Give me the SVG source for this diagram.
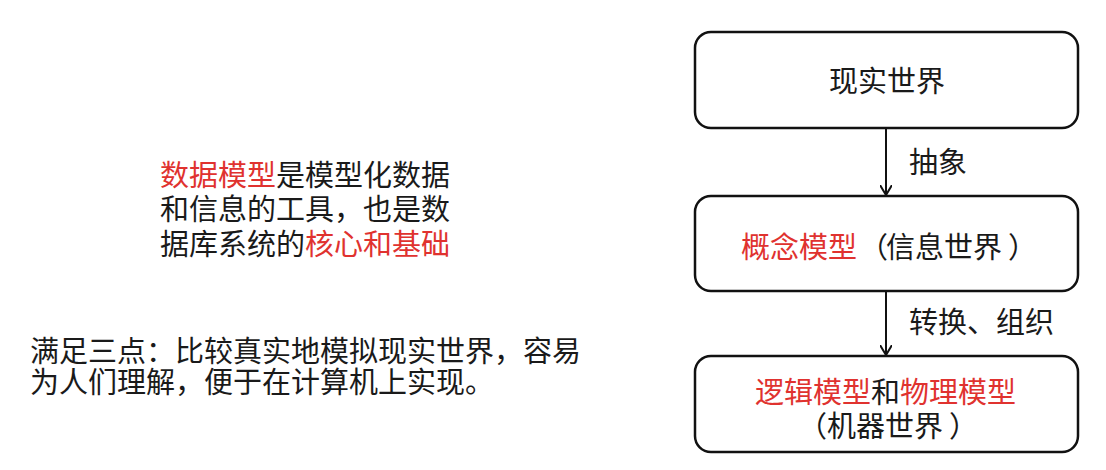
<svg xmlns="http://www.w3.org/2000/svg" width="1106" height="470" viewBox="0 0 1106 470">
<style>
text{font-family:"Noto Sans CJK SC",sans-serif;font-size:29px;fill:#1a1a1a}
.r{fill:#e0322f}
.box{fill:#fff;stroke:#111;stroke-width:2.5}
.ln{stroke:#111;stroke-width:2;fill:none}
</style>
<defs>
<marker id="ah" markerWidth="12" markerHeight="12" refX="10" refY="6" orient="auto" markerUnits="userSpaceOnUse">
<polyline points="0,0 10,6 0,12" fill="none" stroke="#111" stroke-width="2"/>
</marker>
</defs>
<rect width="1106" height="470" fill="#fff"/>
<g id="desc">
<text y="186"><tspan class="r" x="160 189 218 247">数据模型</tspan><tspan x="276 305 334 363 392 421">是模型化数据</tspan></text>
<text y="220" x="160 189 218 247 276 305 334 363 392 421">和信息的工具，也是数</text>
<text y="255"><tspan x="160 189 218 247 276">据库系统的</tspan><tspan class="r" x="305 334 363 392 421">核心和基础</tspan></text>
</g>
<g id="note">
<text y="362" x="30 59 88 117 146 175 204 233 262 291 320 349 378 407 436 465 494 523 552">满足三点：比较真实地模拟现实世界，容易</text>
<text y="393" x="30 59 88 117 146 175 204 233 262 291 320 349 378 407 436 465">为人们理解，便于在计算机上实现。</text>
</g>
<g id="connectors">
<line class="ln" x1="886" y1="128" x2="886" y2="195" marker-end="url(#ah)"/>
<line class="ln" x1="886" y1="291" x2="886" y2="355" marker-end="url(#ah)"/>
<text y="173" x="909 938">抽象</text>
<text y="333" x="909 938 967 996 1025">转换、组织</text>
</g>
<g id="real">
<rect class="box" x="695" y="32" width="383" height="96" rx="16"/>
<text y="92" x="829 858 887 916">现实世界</text>
</g>
<g id="concept">
<rect class="box" x="695" y="196" width="383" height="95" rx="16"/>
<text y="258"><tspan class="r" x="741 770 799 828">概念模型</tspan><tspan x="859 886 915 944 973 1008">（信息世界）</tspan></text>
</g>
<g id="logical">
<rect class="box" x="695" y="356" width="383" height="96" rx="16"/>
<text y="403"><tspan class="r" x="755 784 813 842">逻辑模型</tspan><tspan x="871">和</tspan><tspan class="r" x="900 929 958 987">物理模型</tspan></text>
<text y="437" x="798 827 856 885 914 949">（机器世界）</text>
</g>
</svg>
